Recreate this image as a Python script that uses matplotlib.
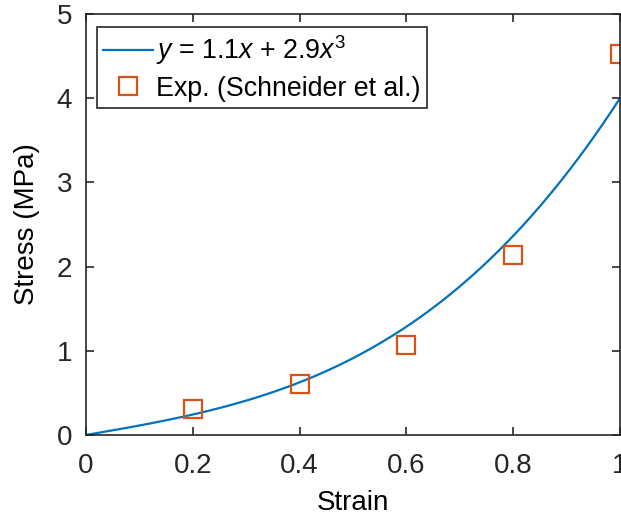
import numpy as np
import matplotlib
matplotlib.use("Agg")
import matplotlib.pyplot as plt

plt.rcParams['font.family'] = ['Liberation Sans', 'DejaVu Sans']
plt.rcParams['mathtext.fontset'] = 'custom'
plt.rcParams['mathtext.rm'] = 'Liberation Sans'
plt.rcParams['mathtext.it'] = 'Liberation Sans:italic'

# Fit coefficients: y = a*x + b*x^3
coef_lin = 1.1
coef_cub = 2.9

# Experimental points (Schneider et al.)
exp_strain = [0.2, 0.4, 0.6, 0.8, 1.0]
exp_stress = [0.31, 0.61, 1.07, 2.14, 4.52]

x_ticks = [0, 0.2, 0.4, 0.6, 0.8, 1]
x_ticklabels = ['0', '0.2', '0.4', '0.6', '0.8', '1']
y_ticks = [0, 1, 2, 3, 4, 5]

W, H = 621, 523
fig = plt.figure(figsize=(W / 100, H / 100), dpi=100)
ax = fig.add_axes([86 / W, (H - 435) / H, (620 - 86) / W, (435 - 14) / H])

xs = np.linspace(0, 1, 200)
ax.plot(xs, coef_lin * xs + coef_cub * xs ** 3, color='#0072BD', lw=1.6,
        label=r'$y$ = 1.1$x$ + 2.9$x^3$')
ax.plot(exp_strain, exp_stress, linestyle='none', marker='s', ms=13.5,
        mfc='none', mec='#D95319', mew=1.6, label='Exp. (Schneider et al.)')

ax.set_xlim(0, 1)
ax.set_ylim(0, 5)
ax.set_xticks(x_ticks)
ax.set_xticklabels(x_ticklabels)
ax.set_yticks(y_ticks)

dark = '#262626'
for s in ax.spines.values():
    s.set_color(dark)
    s.set_linewidth(1.2)
ax.tick_params(direction='in', length=6, width=1.2, colors=dark,
               labelsize=20, top=True, right=True)
ax.tick_params(axis='x', pad=13)
ax.tick_params(axis='y', pad=10)

ax.set_xlabel('Strain', fontsize=20, color='#000000', labelpad=8)
ax.set_ylabel('Stress (MPa)', fontsize=20, color='#000000', labelpad=12)

leg = ax.legend(loc='upper left', bbox_to_anchor=(0.0213, 0.968),
                fontsize=19.3, frameon=True, fancybox=False,
                borderaxespad=0, handlelength=1.85, handletextpad=0.13,
                borderpad=0.22, labelspacing=0.32)
leg.get_frame().set_edgecolor(dark)
leg.get_frame().set_linewidth(1.2)
leg.get_frame().set_alpha(1)

fig.savefig('out.png', dpi=100)
